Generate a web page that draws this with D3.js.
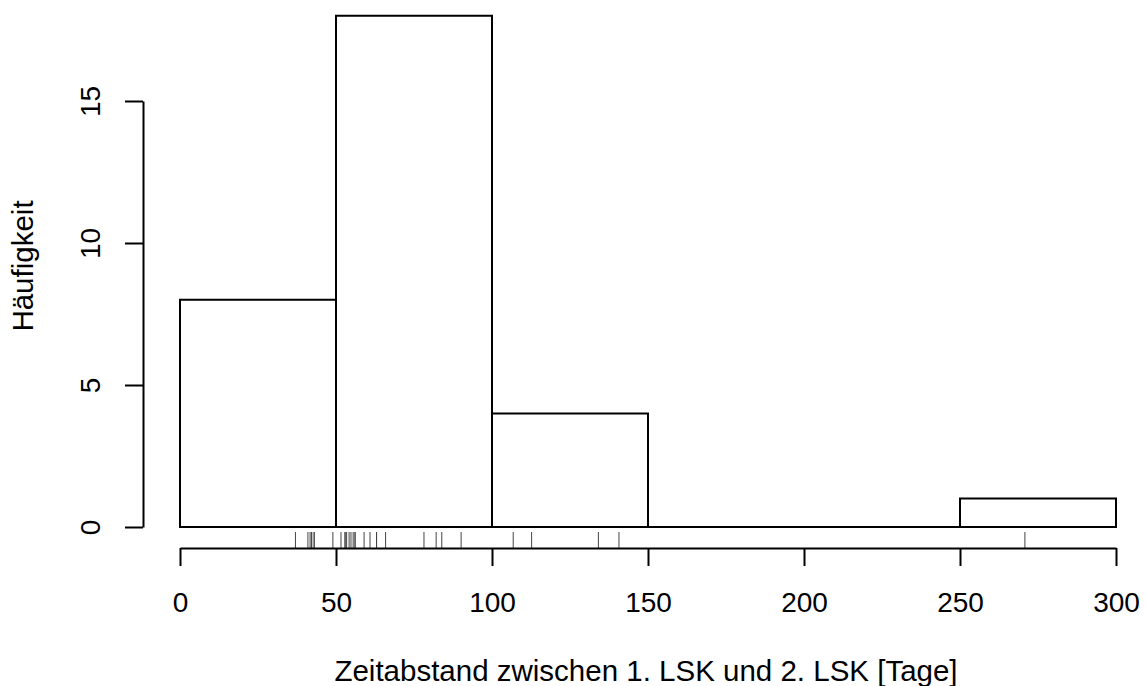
<!DOCTYPE html>
<html>
<head>
<meta charset="utf-8">
<script src="https://cdn.jsdelivr.net/npm/d3@7"></script>
<style>
  html, body { margin: 0; padding: 0; background: #fff; }
  svg { display: block; }
  text { font-family: "Liberation Sans", Arial, Helvetica, sans-serif; fill: #000; }
</style>
</head>
<body>
<svg id="chart" width="1146" height="686"></svg>
<script>
// Zeitabstand (Tage) zwischen 1. und 2. LSK, je Fall
const daysBin0to50 = [37, 41, 41.7, 42.2, 42.2, 43, 43, 49];
const daysBin50to100 = [51.6, 52.9, 52.9, 53.4, 54.2, 54.8, 55.5, 56.1, 56.1, 59, 60.9, 63, 63, 65.9, 78.2, 82.1, 83.9, 90.1];
const daysBin100to150 = [106.8, 112.7, 134.1, 140.7];
const daysBin250to300 = [270.8];
const days = [].concat(daysBin0to50, daysBin50to100, daysBin100to150, daysBin250to300);

const breaks = [0, 50, 100, 150, 200, 250, 300];
const xTicks = [0, 50, 100, 150, 200, 250, 300];
const yTicks = [0, 5, 10, 15];
const xLabel = "Zeitabstand zwischen 1. LSK und 2. LSK [Tage]";
const yLabel = "Häufigkeit";

const svg = d3.select("#chart");
const tickFont = 28;
const titleFont = 29.5;

const x = d3.scaleLinear().domain([0, 300]).range([180, 1116]);
const y = d3.scaleLinear().domain([0, 15]).range([527, 101]);

// Histogram bins over the fixed breaks
const bins = d3.bin()
  .domain([breaks[0], breaks[breaks.length - 1]])
  .thresholds(breaks.slice(1, -1))(days);

svg.append("g")
  .selectAll("path")
  .data(bins)
  .join("path")
  .attr("d", d => {
    const x0 = x(d.x0), x1 = x(d.x1), y0 = y(0), y1 = y(d.length);
    return `M${x0},${y0}L${x0},${y1}L${x1},${y1}L${x1},${y0}Z`;
  })
  .attr("fill", "none")
  .attr("stroke", "#000")
  .attr("stroke-width", 2);

// Rug of individual observations
svg.append("g")
  .selectAll("line")
  .data(days)
  .join("line")
  .attr("x1", d => x(d)).attr("x2", d => x(d))
  .attr("y1", 548).attr("y2", 532)
  .attr("stroke", "#444")
  .attr("stroke-width", 1);

// x axis
const xAxis = svg.append("g")
  .attr("transform", "translate(0,548)")
  .call(d3.axisBottom(x).tickValues(xTicks).tickSize(18).tickSizeOuter(0).tickPadding(26).tickFormat(d3.format("d")));
xAxis.select(".domain").attr("stroke-width", 2);
xAxis.selectAll(".tick line").attr("stroke-width", 2);
xAxis.selectAll("text")
  .attr("font-size", tickFont)
  .attr("font-family", "Liberation Sans, Arial, sans-serif")
  .attr("fill", "#000");

// y axis
const yAxis = svg.append("g")
  .attr("transform", "translate(143,0)")
  .call(d3.axisLeft(y).tickValues(yTicks).tickSize(18).tickSizeOuter(0).tickFormat(d3.format("d")));
yAxis.select(".domain").attr("stroke-width", 2);
yAxis.selectAll(".tick line").attr("stroke-width", 2);
yAxis.selectAll("text")
  .attr("font-size", tickFont)
  .attr("font-family", "Liberation Sans, Arial, sans-serif")
  .attr("fill", "#000")
  .attr("text-anchor", "middle")
  .attr("dy", 0)
  .attr("x", 0)
  .attr("transform", "translate(-43,0) rotate(-90)");

// Axis titles
svg.append("text")
  .attr("x", 646).attr("y", 681)
  .attr("text-anchor", "middle")
  .attr("font-size", titleFont)
  .text(xLabel);

svg.append("text")
  .attr("transform", "translate(33,266) rotate(-90)")
  .attr("text-anchor", "middle")
  .attr("font-size", titleFont)
  .text(yLabel);
</script>
</body>
</html>
